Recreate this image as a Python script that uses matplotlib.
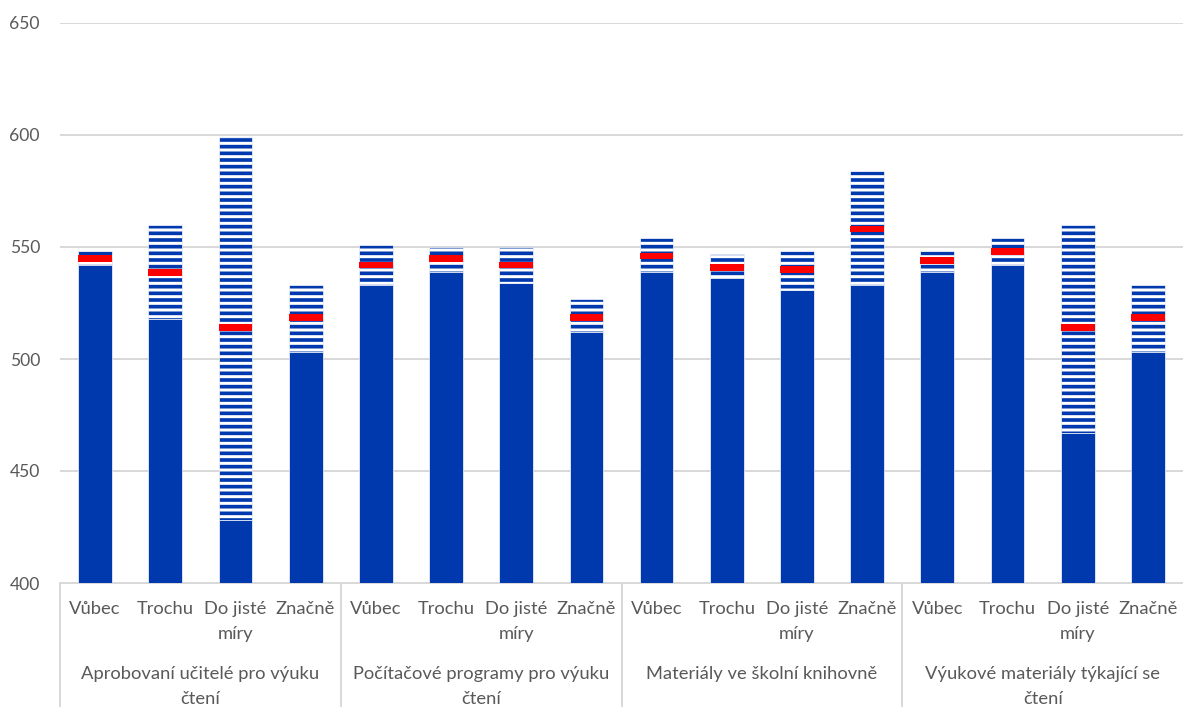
import matplotlib
matplotlib.use("Agg")
import matplotlib.pyplot as plt
import numpy as np

# categories
answers = ["Vůbec", "Trochu", "Do jisté\nmíry", "Značně"]
groups = [
    "Aprobovaní učitelé pro výuku\nčtení",
    "Počítačové programy pro výuku\nčtení",
    "Materiály ve školní knihovně",
    "Výukové materiály týkající se\nčtení",
]

# lower bound, mean, upper bound of each bar
lower = [542, 518, 428, 503, 533, 539, 534, 512, 539, 536, 531, 533, 539, 542, 467, 503]
mean = [545, 538.5, 514, 518.5, 542, 545, 542, 518.5, 546, 541, 540, 558, 544, 548, 514, 518.5]
upper = [548, 560, 599, 533, 551, 550, 550, 527, 554, 547, 548, 584, 548, 554, 560, 533]

base = 400
mark = 3  # thickness of the red mean band

plt.rcParams['font.family'] = ['Lato', 'DejaVu Sans']
plt.rcParams['hatch.color'] = 'white'
plt.rcParams['hatch.linewidth'] = 1.8

blue = '#0039AE'
red = '#FF0000'
grey_txt = '#595959'
grid_col = '#D9D9D9'

DPI = 120
fig = plt.figure(figsize=(1183 / DPI, 707 / DPI), dpi=DPI)
ax = fig.add_axes([60 / 1183, 124 / 707, 1123 / 1183, 560 / 707])

x = np.arange(len(lower))
lower_a = np.array(lower)
mean_a = np.array(mean)
upper_a = np.array(upper)
w = 0.48

# solid part up to lower bound
ax.bar(x, lower_a - base, bottom=base, width=w, color=blue, edgecolor='white', linewidth=0.4, zorder=3)
# hatched confidence band
ax.bar(x, upper_a - lower_a, bottom=lower_a, width=w, color=blue, edgecolor='white',
       linewidth=0.4, hatch='---', zorder=3)
# red mean marker
ax.bar(x, mark, bottom=mean_a - mark / 2, width=w, color=red, edgecolor='none', zorder=4)

ax.set_ylim(400, 650)
ax.set_xlim(-0.5, len(lower) - 0.5)
ax.set_yticks(np.arange(400, 651, 50))
ax.yaxis.grid(True, color=grid_col, linewidth=1.2, zorder=0)
ax.set_axisbelow(True)
for s in ['top', 'right', 'left']:
    ax.spines[s].set_visible(False)
ax.spines['bottom'].set_color(grid_col)
ax.spines['bottom'].set_linewidth(1.2)
ax.tick_params(axis='y', length=0, pad=12, labelsize=10.5, labelcolor=grey_txt)

# inner category labels
ax.set_xticks(x)
ax.set_xticklabels(answers * len(groups), linespacing=1.7)
ax.tick_params(axis='x', length=0, pad=11, labelsize=11, labelcolor=grey_txt)

# outer group labels and separators
trans = ax.get_xaxis_transform()
n = len(answers)
for i, g in enumerate(groups):
    cx = i * n + (n - 1) / 2
    ax.text(cx, -0.148, g, transform=trans, ha='center', va='top', fontsize=11,
            color=grey_txt, linespacing=1.7)
for i in range(len(groups)):
    xb = i * n - 0.5
    ax.plot([xb, xb], [0, -0.23], transform=trans, color=grid_col, linewidth=1.2, clip_on=False)

fig.savefig("out.png", dpi=DPI)
